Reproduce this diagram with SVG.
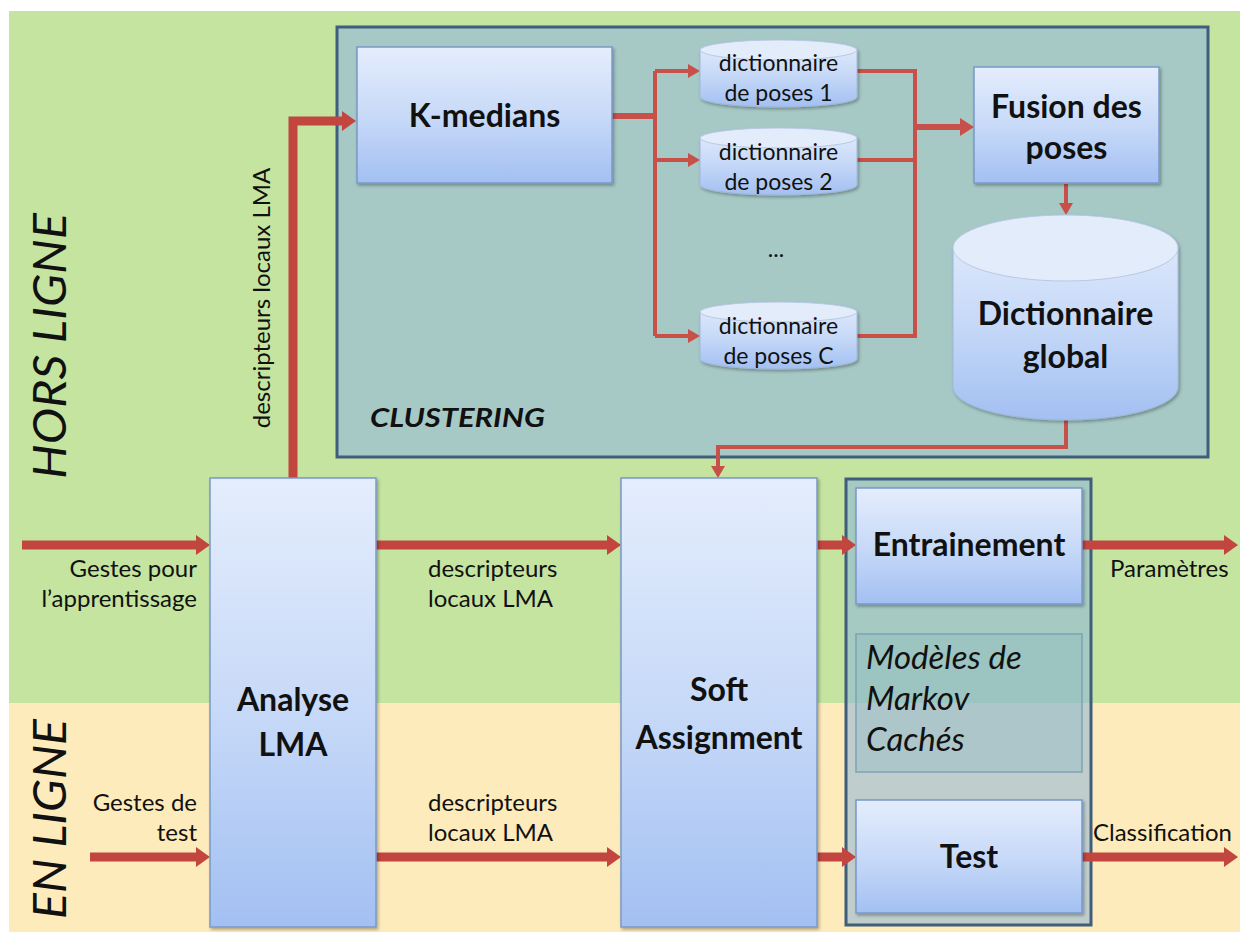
<svg xmlns="http://www.w3.org/2000/svg" width="1240" height="936" viewBox="0 0 1240 936">
<defs>
<style>
text{font-family:Lato,"Liberation Sans",sans-serif;fill:#111}
.b{font-weight:bold}
.box{fill:url(#gBox);stroke:#7a98c8;stroke-width:1.5;filter:url(#sh)}
.cyl{fill:url(#gBox);stroke:#9fb6da;stroke-width:1;filter:url(#sh)}
.cyltop{fill:#e3ecfb;stroke:#b9c9e2;stroke-width:1}
.thick{fill:none;stroke:#c2463f;stroke-width:9}
.thin{fill:none;stroke:#c8504a;stroke-width:4}
.med{fill:none;stroke:#c8504a;stroke-width:6}
.lbl{font-size:24px}
.sm{font-size:23px}
.big{font-size:32px;font-weight:bold}
.side{font-size:47px;font-style:italic}
.it{font-size:33px;font-style:italic}
</style>
<linearGradient id="gBox" x1="0" y1="0" x2="0" y2="1">
<stop offset="0" stop-color="#e4edfc"/>
<stop offset="0.5" stop-color="#c8daf8"/>
<stop offset="1" stop-color="#a3c0f2"/>
</linearGradient>
<filter id="sh" x="-10%" y="-10%" width="130%" height="130%">
<feDropShadow dx="1.5" dy="2" stdDeviation="1.5" flood-color="#000" flood-opacity="0.3"/>
</filter>
<marker id="ah" viewBox="0 0 14 20" refX="1" refY="10" markerWidth="14" markerHeight="20" markerUnits="userSpaceOnUse" orient="auto">
<path d="M0,0 L14,10 L0,20 Z" fill="#c2463f"/>
</marker>
<marker id="at" viewBox="0 0 12 14" refX="1" refY="7" markerWidth="12" markerHeight="14" markerUnits="userSpaceOnUse" orient="auto">
<path d="M0,0 L12,7 L0,14 Z" fill="#c8504a"/>
</marker>
<marker id="am" viewBox="0 0 14 18" refX="1" refY="9" markerWidth="14" markerHeight="18" markerUnits="userSpaceOnUse" orient="auto">
<path d="M0,0 L14,9 L0,18 Z" fill="#c8504a"/>
</marker>
</defs>
<rect x="0" y="0" width="1240" height="936" fill="#ffffff"/>
<g id="background">
<rect x="9" y="11" width="1231" height="692" fill="#c4e4a0"/>
<rect x="9" y="703" width="1231" height="229" fill="#fdebbb"/>
<text class="side" x="0" y="0" text-anchor="middle" textLength="266" lengthAdjust="spacingAndGlyphs" transform="translate(66,346) rotate(-90)">HORS LIGNE</text>
<text class="side" x="0" y="0" text-anchor="middle" textLength="200" lengthAdjust="spacingAndGlyphs" transform="translate(66,819) rotate(-90)">EN LIGNE</text>
</g>
<g id="clustering">
<rect x="337" y="27" width="871" height="430" fill="#a6c9c6" stroke="#3f5d7c" stroke-width="3"/>
<text x="370" y="427" font-size="27" font-style="italic" class="b" textLength="175" lengthAdjust="spacingAndGlyphs">CLUSTERING</text>
</g>
<g id="hmm">
<rect x="846" y="479" width="245" height="446" fill="rgb(140,180,220)" fill-opacity="0.55" stroke="#3f5d7c" stroke-width="3"/>
</g>
<g id="connectors">
<path class="thick" d="M293,478 V121 H343" marker-end="url(#ah)"/>
<path class="thick" d="M22,545 H197" marker-end="url(#ah)"/>
<path class="thick" d="M376,545 H608" marker-end="url(#ah)"/>
<path class="thick" d="M817,545 H843" marker-end="url(#ah)"/>
<path class="thick" d="M1082,545 H1225" marker-end="url(#ah)"/>
<path class="thick" d="M90,857 H197" marker-end="url(#ah)"/>
<path class="thick" d="M376,857 H608" marker-end="url(#ah)"/>
<path class="thick" d="M817,857 H843" marker-end="url(#ah)"/>
<path class="thick" d="M1082,857 H1225" marker-end="url(#ah)"/>
<path class="med" d="M612,116 H655"/>
<path class="thin" d="M655,71 V336"/>
<path class="thin" d="M655,71 H689" marker-end="url(#at)"/>
<path class="thin" d="M655,160 H689" marker-end="url(#at)"/>
<path class="thin" d="M655,336 H689" marker-end="url(#at)"/>
<path class="thin" d="M857,71 H915 V336 H857"/>
<path class="thin" d="M857,160 H915"/>
<path class="med" d="M915,127 H961" marker-end="url(#am)"/>
<path class="thin" d="M1066,184 V204" marker-end="url(#at)"/>
<path class="thin" d="M1066,420 V447 H718 V467" marker-end="url(#at)"/>
</g>
<text x="0" y="0" font-size="24" text-anchor="middle" transform="translate(270,298) rotate(-90)">descripteurs locaux LMA</text>
<g id="kmedians">
<rect class="box" x="357" y="47" width="255" height="136"/>
<text class="big" x="484.5" y="127" text-anchor="middle">K-medians</text>
</g>
<g id="dict1">
<path class="cyl" d="M700,50 V97 A78.5,10 0 0 0 857,97 V50 A78.5,10 0 0 0 700,50 Z"/>
<ellipse class="cyltop" cx="778.5" cy="50" rx="78.5" ry="10"/>
<text class="sm" x="778.5" y="71" text-anchor="middle">dictionnaire</text>
<text class="sm" x="778.5" y="101" text-anchor="middle">de poses 1</text>
</g>
<g id="dict2">
<path class="cyl" d="M700,138 V185 A78.5,10 0 0 0 857,185 V138 A78.5,10 0 0 0 700,138 Z"/>
<ellipse class="cyltop" cx="778.5" cy="138" rx="78.5" ry="10"/>
<text class="sm" x="778.5" y="160" text-anchor="middle">dictionnaire</text>
<text class="sm" x="778.5" y="190" text-anchor="middle">de poses 2</text>
</g>
<text class="sm" x="776" y="257" text-anchor="middle">...</text>
<g id="dictC">
<path class="cyl" d="M700,312 V359 A78.5,10 0 0 0 857,359 V312 A78.5,10 0 0 0 700,312 Z"/>
<ellipse class="cyltop" cx="778.5" cy="312" rx="78.5" ry="10"/>
<text class="sm" x="778.5" y="334" text-anchor="middle">dictionnaire</text>
<text class="sm" x="778.5" y="364" text-anchor="middle">de poses C</text>
</g>
<g id="fusion">
<rect class="box" x="974" y="67" width="185" height="116"/>
<text class="big" x="1066.5" y="118" text-anchor="middle">Fusion des</text>
<text class="big" x="1066.5" y="159" text-anchor="middle">poses</text>
</g>
<g id="global">
<path class="cyl" d="M953,248 V387 A112.5,33 0 0 0 1178,387 V248 A112.5,33 0 0 0 953,248 Z"/>
<ellipse class="cyltop" cx="1065.5" cy="248" rx="112.5" ry="33"/>
<text class="big" x="1065.5" y="325" text-anchor="middle">Dictionnaire</text>
<text class="big" x="1065.5" y="368" text-anchor="middle">global</text>
</g>
<g id="analyse">
<rect class="box" x="210" y="478" width="166" height="449"/>
<text class="big" x="293" y="711" text-anchor="middle">Analyse</text>
<text class="big" x="293" y="756" text-anchor="middle">LMA</text>
</g>
<g id="soft">
<rect class="box" x="621" y="478" width="196" height="449"/>
<text class="big" x="719" y="701" text-anchor="middle">Soft</text>
<text class="big" x="719" y="749" text-anchor="middle">Assignment</text>
</g>
<g id="entrainement">
<rect class="box" x="856" y="488" width="226" height="116"/>
<text class="big" x="969" y="556" text-anchor="middle">Entrainement</text>
</g>
<g id="modeles">
<rect x="856" y="634" width="226" height="138" fill="rgb(140,185,195)" fill-opacity="0.35" stroke="#7fa2b4" stroke-width="1.5"/>
<text class="it" x="866" y="669">Modèles de</text>
<text class="it" x="866" y="710">Markov</text>
<text class="it" x="866" y="751">Cachés</text>
</g>
<g id="test">
<rect class="box" x="856" y="800" width="226" height="113"/>
<text class="big" x="969" y="868" text-anchor="middle">Test</text>
</g>
<g id="labels">
<text class="lbl" x="197" y="577" text-anchor="end">Gestes pour</text>
<text class="lbl" x="197" y="607" text-anchor="end">l’apprentissage</text>
<text class="lbl" x="428" y="577">descripteurs</text>
<text class="lbl" x="428" y="607">locaux LMA</text>
<text class="lbl" x="1110" y="577">Paramètres</text>
<text class="lbl" x="197" y="811" text-anchor="end">Gestes de</text>
<text class="lbl" x="197" y="841" text-anchor="end">test</text>
<text class="lbl" x="428" y="811">descripteurs</text>
<text class="lbl" x="428" y="841">locaux LMA</text>
<text class="lbl" x="1093" y="841">Classification</text>
</g>
</svg>
